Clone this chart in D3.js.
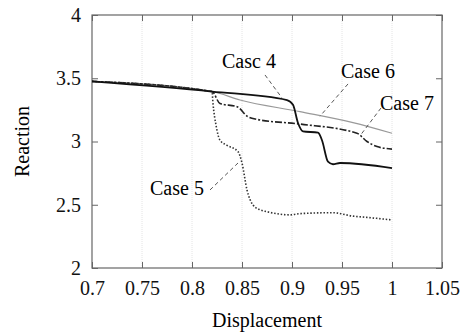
<!doctype html>
<html>
<head>
    <script src="https://d3js.org/d3.v7.min.js"></script>
</head>
<body>
    <svg width="466" height="334" style="position:absolute;left:0;top:0"></svg>
    <script>
        // displacement (x) / reaction (y)
        var case4X = [0.70, 0.82, 0.895, 0.901, 0.906, 0.911, 0.926, 0.930, 0.936, 0.941, 0.948, 1.0];
        var case4Y = [3.475, 3.395, 3.328, 3.29, 3.146, 3.08, 3.07, 3.01, 2.84, 2.82, 2.83, 2.79];

        var case5X = [0.70, 0.82, 0.821, 0.824, 0.828, 0.835, 0.846, 0.850, 0.855, 0.861, 0.868, 0.875, 0.898, 0.908, 0.941, 0.961, 0.975, 1.0];
        var case5Y = [3.475, 3.395, 3.30, 3.13, 3.01, 2.97, 2.92, 2.83, 2.617, 2.498, 2.46, 2.445, 2.42, 2.43, 2.437, 2.41, 2.40, 2.38];

        var case6X = [0.70, 0.82, 0.848, 0.908, 0.961, 1.0];
        var case6Y = [3.475, 3.395, 3.328, 3.236, 3.149, 3.065];

        var case7X = [0.70, 0.82, 0.828, 0.845, 0.856, 0.865, 0.908, 0.965, 0.975, 0.985, 1.0];
        var case7Y = [3.475, 3.395, 3.30, 3.275, 3.196, 3.175, 3.138, 3.065, 3.0, 2.96, 2.94];

        var xTicks = [0.7, 0.75, 0.8, 0.85, 0.9, 0.95, 1, 1.05];
        var yTicks = [2, 2.5, 3, 3.5, 4];

        // label text, label anchor (data units), leader start and end (data units)
        var labelNames = ["Casc 4", "Case 5", "Case 6", "Case 7"];
        var labelPos = [[0.830, 3.581], [0.758, 2.577], [0.949, 3.502], [0.988, 3.249]];
        var leaderFrom = [[0.873, 3.526], [0.818, 2.617], [0.956, 3.455], [0.989, 3.265]];
        var leaderTo = [[0.89, 3.344], [0.846, 2.83], [0.928, 3.20], [0.968, 3.045]];

        var svg = d3.select("svg"),
            mLeft = 92, mRight = 442, mTop = 15, mBottom = 268;

        var x = d3.scaleLinear().domain([0.7, 1.05]).range([mLeft, mRight]);
        var y = d3.scaleLinear().domain([2, 4]).range([mBottom, mTop]);

        // faint vertical gridlines
        svg.append("g")
            .selectAll("line")
            .data(xTicks.slice(1, -1))
            .enter().append("line")
            .attr("x1", d => x(d)).attr("x2", d => x(d))
            .attr("y1", mTop).attr("y2", mBottom)
            .attr("stroke", "#e4e4e4")
            .attr("stroke-width", 1)
            .attr("stroke-dasharray", "1,1");

        var axisColor = "#666";
        function styleAxis(g) {
            g.attr("font-family", "Liberation Serif").attr("font-size", 20);
            g.select(".domain").remove();
            g.selectAll(".tick line").attr("stroke", axisColor);
            g.selectAll(".tick text").attr("fill", "#111");
        }

        svg.append("g")
            .attr("transform", "translate(0," + mBottom + ")")
            .call(d3.axisBottom(x).tickValues(xTicks).tickSize(-6).tickPadding(13).tickFormat(d3.format("")))
            .call(styleAxis);

        svg.append("g")
            .attr("transform", "translate(0," + mTop + ")")
            .call(d3.axisTop(x).tickValues(xTicks).tickSize(-6).tickFormat(""))
            .call(styleAxis);

        svg.append("g")
            .attr("transform", "translate(" + mLeft + ",0)")
            .call(d3.axisLeft(y).tickValues(yTicks).tickSize(-6).tickPadding(11).tickFormat(d3.format("")))
            .call(styleAxis);

        svg.append("g")
            .attr("transform", "translate(" + mRight + ",0)")
            .call(d3.axisRight(y).tickValues(yTicks).tickSize(-6).tickFormat(""))
            .call(styleAxis);

        svg.append("rect")
            .attr("x", mLeft).attr("y", mTop)
            .attr("width", mRight - mLeft).attr("height", mBottom - mTop)
            .attr("fill", "none")
            .attr("stroke", axisColor)
            .attr("stroke-width", 1.2);

        var line = d3.line()
            .x(d => x(d[0]))
            .y(d => y(d[1]))
            .curve(d3.curveMonotoneX);

        function pairs(xs, ys) { return xs.map((v, i) => [v, ys[i]]); }

        var series = [
            { pts: pairs(case6X, case6Y), stroke: "#999", width: 1.1, dash: null },
            { pts: pairs(case7X, case7Y), stroke: "#222", width: 1.6, dash: "7,2,2,2" },
            { pts: pairs(case5X, case5Y), stroke: "#333", width: 1.6, dash: "1.5,1.8" },
            { pts: pairs(case4X, case4Y), stroke: "#111", width: 1.8, dash: null }
        ];

        svg.append("g")
            .selectAll("path")
            .data(series)
            .enter().append("path")
            .attr("d", d => line(d.pts))
            .attr("fill", "none")
            .attr("stroke", d => d.stroke)
            .attr("stroke-width", d => d.width)
            .attr("stroke-dasharray", d => d.dash);

        // leader lines
        svg.append("g")
            .selectAll("line")
            .data(labelNames)
            .enter().append("line")
            .attr("x1", (d, i) => x(leaderFrom[i][0]))
            .attr("y1", (d, i) => y(leaderFrom[i][1]))
            .attr("x2", (d, i) => x(leaderTo[i][0]))
            .attr("y2", (d, i) => y(leaderTo[i][1]))
            .attr("stroke", "#444")
            .attr("stroke-width", 0.9)
            .attr("stroke-dasharray", "4,3");

        svg.append("g")
            .selectAll("text")
            .data(labelNames)
            .enter().append("text")
            .attr("x", (d, i) => x(labelPos[i][0]))
            .attr("y", (d, i) => y(labelPos[i][1]))
            .attr("font-family", "Liberation Serif")
            .attr("font-size", "20px")
            .text(d => d);

        svg.append("text")
            .attr("x", (mLeft + mRight) / 2)
            .attr("y", 327)
            .attr("text-anchor", "middle")
            .attr("font-family", "Liberation Serif")
            .attr("font-size", "20px")
            .text("Displacement");

        svg.append("text")
            .attr("transform", "translate(29," + ((mTop + mBottom) / 2) + ") rotate(-90)")
            .attr("text-anchor", "middle")
            .attr("font-family", "Liberation Serif")
            .attr("font-size", "20px")
            .text("Reaction");
    </script>
</body>
</html>
